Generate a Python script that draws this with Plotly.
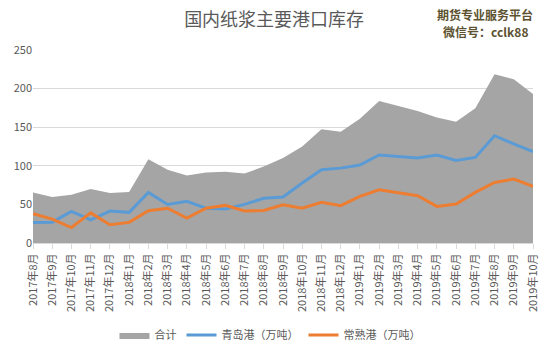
import plotly.graph_objects as go

categories = ["2017年8月", "2017年9月", "2017年10月", "2017年11月", "2017年12月",
              "2018年1月", "2018年2月", "2018年3月", "2018年4月", "2018年5月",
              "2018年6月", "2018年7月", "2018年8月", "2018年9月", "2018年10月",
              "2018年11月", "2018年12月", "2019年1月", "2019年2月", "2019年3月",
              "2019年4月", "2019年5月", "2019年6月", "2019年7月", "2019年8月",
              "2019年9月", "2019年10月"]

total = [65.5, 59.5, 62.5, 70, 64.7, 66, 108.6, 95, 87.5, 91.4, 92.2, 90, 99,
         110, 125, 147.4, 144, 160.8, 184, 177.6, 171, 162.5, 157, 174.6, 218.5,
         212, 193]
qingdao = [26.7, 27, 41, 30, 41.4, 39.7, 65.5, 50, 54, 45, 44, 50, 58,
           59.5, 77.6, 94.8, 97, 101, 114, 112, 110, 114, 107, 110.8, 139,
           128.4, 118.5]
changshu = [38, 31, 20, 39, 23.7, 26.7, 41.8, 45, 32.3, 45, 48.7, 41.4, 42.2,
            49.6, 45, 52.6, 48.3, 60.3, 69, 65.5, 61.2, 47.4, 50.4, 65.5, 78.4,
            82.8, 73.3]

y_ticks = [0, 50, 100, 150, 200, 250]

FONT = "Noto Sans CJK SC"
xs = list(range(len(categories)))

fig = go.Figure()
fig.add_trace(go.Scatter(
    x=xs, y=total, name="合计", mode="lines", fill="tozeroy",
    line=dict(color="#a5a5a5", width=0), fillcolor="#a5a5a5",
))
fig.add_trace(go.Scatter(
    x=xs, y=qingdao, name="青岛港（万吨）", mode="lines",
    line=dict(color="#5b9bd5", width=3),
))
fig.add_trace(go.Scatter(
    x=xs, y=changshu, name="常熟港（万吨）", mode="lines",
    line=dict(color="#ed7d31", width=3),
))

fig.update_layout(
    width=545, height=348,
    margin=dict(l=33, r=12, t=50, b=105, autoexpand=False),
    paper_bgcolor="white", plot_bgcolor="white",
    font=dict(family=FONT, color="#595959"),
    title=dict(text="国内纸浆主要港口库存", x=0.503, xanchor="center",
               y=1 - 20 / 348, yanchor="middle",
               font=dict(size=18, color="#595959", family=FONT)),
    showlegend=True,
    legend=dict(orientation="h", x=0.474, xanchor="center", y=-0.477,
                yanchor="middle", font=dict(size=11, color="#595959"),
                itemwidth=30, tracegroupgap=0),
    xaxis=dict(
        range=[0, len(categories) - 1], automargin=False,
        tickmode="array", tickvals=xs, ticktext=categories,
        tickangle=-90, tickfont=dict(size=11, color="#595959"),
        showgrid=False, showline=True, linecolor="#d9d9d9",
        ticks="outside", ticklen=5, tickcolor="#d9d9d9",
        zeroline=False,
    ),
    yaxis=dict(
        range=[0, 250], tickvals=y_ticks, automargin=False,
        tickfont=dict(size=11, color="#595959"),
        showgrid=True, gridcolor="#d9d9d9", gridwidth=1,
        zeroline=False, showline=False, ticks="",
    ),
    annotations=[
        dict(text="<b>期货专业服务平台</b>", xref="paper", yref="paper",
             x=0.904, xanchor="center", y=(243 - 14) / 193, yanchor="middle",
             showarrow=False,
             font=dict(size=12, color="#5c5230", family=FONT)),
        dict(text="<b>微信号：cclk88</b>", xref="paper", yref="paper",
             x=0.904, xanchor="center", y=(243 - 31) / 193, yanchor="middle",
             showarrow=False,
             font=dict(size=12, color="#5c5230", family=FONT)),
    ],
)

fig.write_html("out.html")
